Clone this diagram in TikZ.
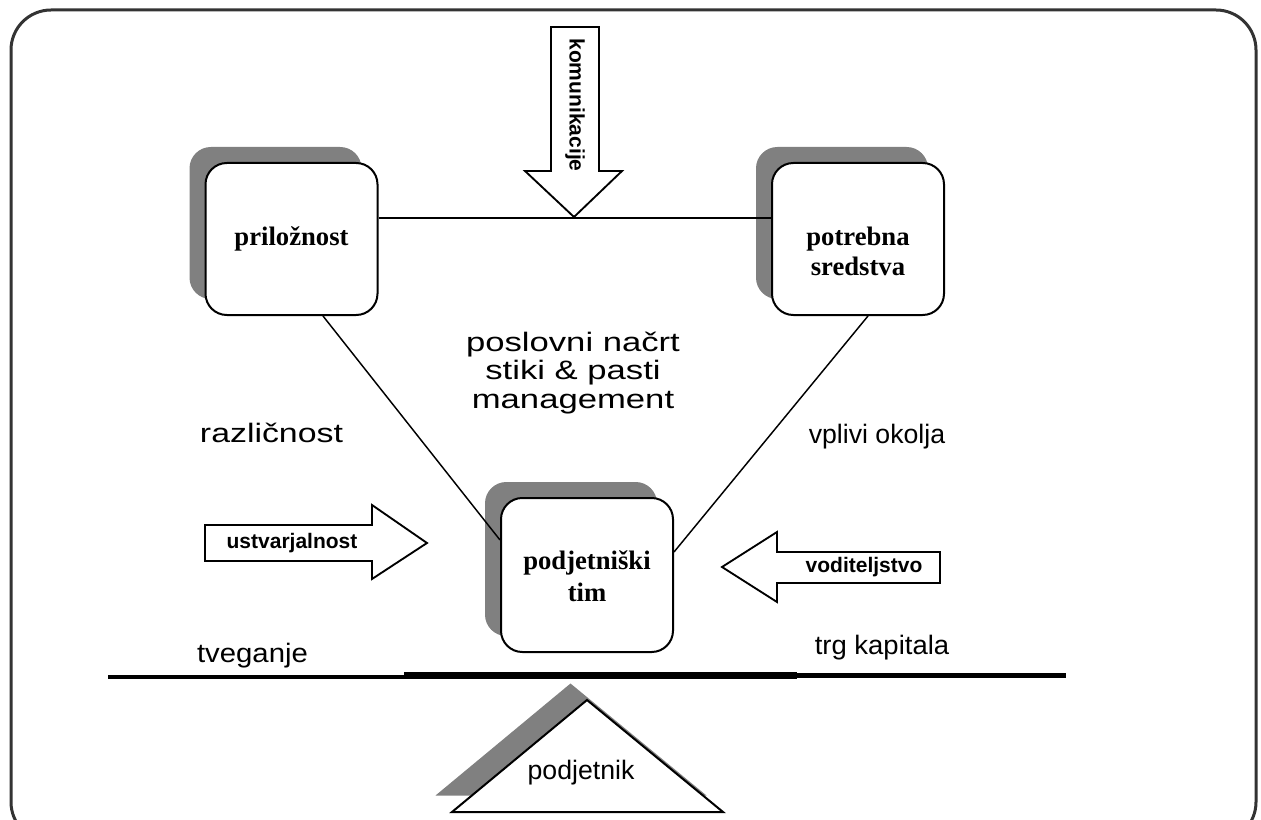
\documentclass[tikz,border=0pt]{standalone}
\usepackage{fontspec}
\usepackage{graphicx}
\setmainfont{Liberation Serif}
\setsansfont{Liberation Sans}
\usetikzlibrary{calc,shadows}
\definecolor{shadowgray}{HTML}{808080}
\definecolor{framegray}{HTML}{333333}
\newcommand{\widetext}[2]{\scalebox{#1}[1]{\begin{tabular}{@{}c@{}}#2\end{tabular}}}
\begin{document}
\begin{tikzpicture}[x=0.75pt,y=-0.75pt,
  box/.style={draw=black, line width=1.5pt, fill=white, rounded corners=16pt,
    minimum width=129pt, minimum height=114pt, inner sep=0pt,
    drop shadow={shadow xshift=-12pt, shadow yshift=12pt, fill=shadowgray, opacity=1}},
  boxtext/.style={inner sep=0pt, align=center,
    font=\fontsize{20}{22.5}\selectfont\bfseries},
  link/.style={draw=black, line width=1.1pt},
  blockarrow/.style={draw=black, line width=1.4pt, fill=white, line join=miter},
  arrowtext/.style={font=\sffamily\bfseries\fontsize{15.75}{18}\selectfont, inner sep=0pt},
  label/.style={font=\sffamily\fontsize{20}{21.4}\selectfont, inner sep=0pt, align=center}]
\useasboundingbox (0,0) rectangle (1261,820);
\clip (0,0) rectangle (1261,820);

% outer frame
\draw[framegray, line width=2.25pt, rounded corners=30pt] (11,10) rectangle (1256,842);

% communication arrow from the top
\draw[blockarrow] (551,27) -- (599,27) -- (599,171) -- (622,171) -- (574,217)
  -- (525,171) -- (551,171) -- cycle;
\node[arrowtext, rotate=-90] (kom) at (575,105) {komunikacije};

% the three team boxes
\node[box] (pril) at (291.5,239) {};
\node[boxtext] (prilT) at (291.5,239) {priložnost};
\node[box] (pot) at (858,239) {};
\node[boxtext] (potT) at (858,251) {potrebna\\sredstva};
\node[box, minimum height=115.5pt] (tim) at (587,575) {};
\node[boxtext, font=\fontsize{20}{24}\selectfont\bfseries] (timT) at (587,576) {podjetniški\\tim};

% connecting lines
\draw[link] ($(pril.east)+(0,-21)$) -- ($(pot.west)+(0,-21)$);
\draw[link] ($(pril.south)+(31.5,0)$) -- ($(tim.west)+(0,-35)$);
\draw[link] ($(pot.south)+(10,0)$) -- ($(tim.east)+(0,-23)$);

% central labels
\node[label] (plan) at (573,374)
  {\widetext{1.3}{poslovni načrt\\stiki \& pasti\\management}};
\node[label] (raz) at (271.5,437) {\widetext{1.27}{različnost}};
\node[label] (vpl) at (877,437) {vplivi okolja};
\node[label] (tve) at (252.5,657) {\widetext{1.1}{tveganje}};
\node[label] (trg) at (882,649) {\widetext{1.03}{trg kapitala}};

% side arrows
\draw[blockarrow] (205,525) -- (372,525) -- (372,505) -- (427,543) -- (372,579)
  -- (372,561) -- (205,561) -- cycle;
\node[arrowtext] (ustv) at (292,543) {ustvarjalnost};
\draw[blockarrow] (940,552) -- (777,552) -- (777,532) -- (722,567) -- (777,602)
  -- (777,583) -- (940,583) -- cycle;
\node[arrowtext] (vod) at (864,567) {voditeljstvo};

% lever
\draw[black, line width=3pt] (108,677) -- (404,677);
\draw[black, line width=3.75pt] (797,675.5) -- (1066,675.5);
\draw[black, line width=5.25pt] (404,675) -- (797,675);

% fulcrum
\fill[shadowgray] (570.5,683.5) -- (435.5,795.5) -- (706.5,795.5) -- cycle;
\draw[black, line width=1.5pt, fill=white] (587,700) -- (452,812) -- (723,812) -- cycle;
\node[label] (pod) at (581,773) {podjetnik};
\end{tikzpicture}
\end{document}
